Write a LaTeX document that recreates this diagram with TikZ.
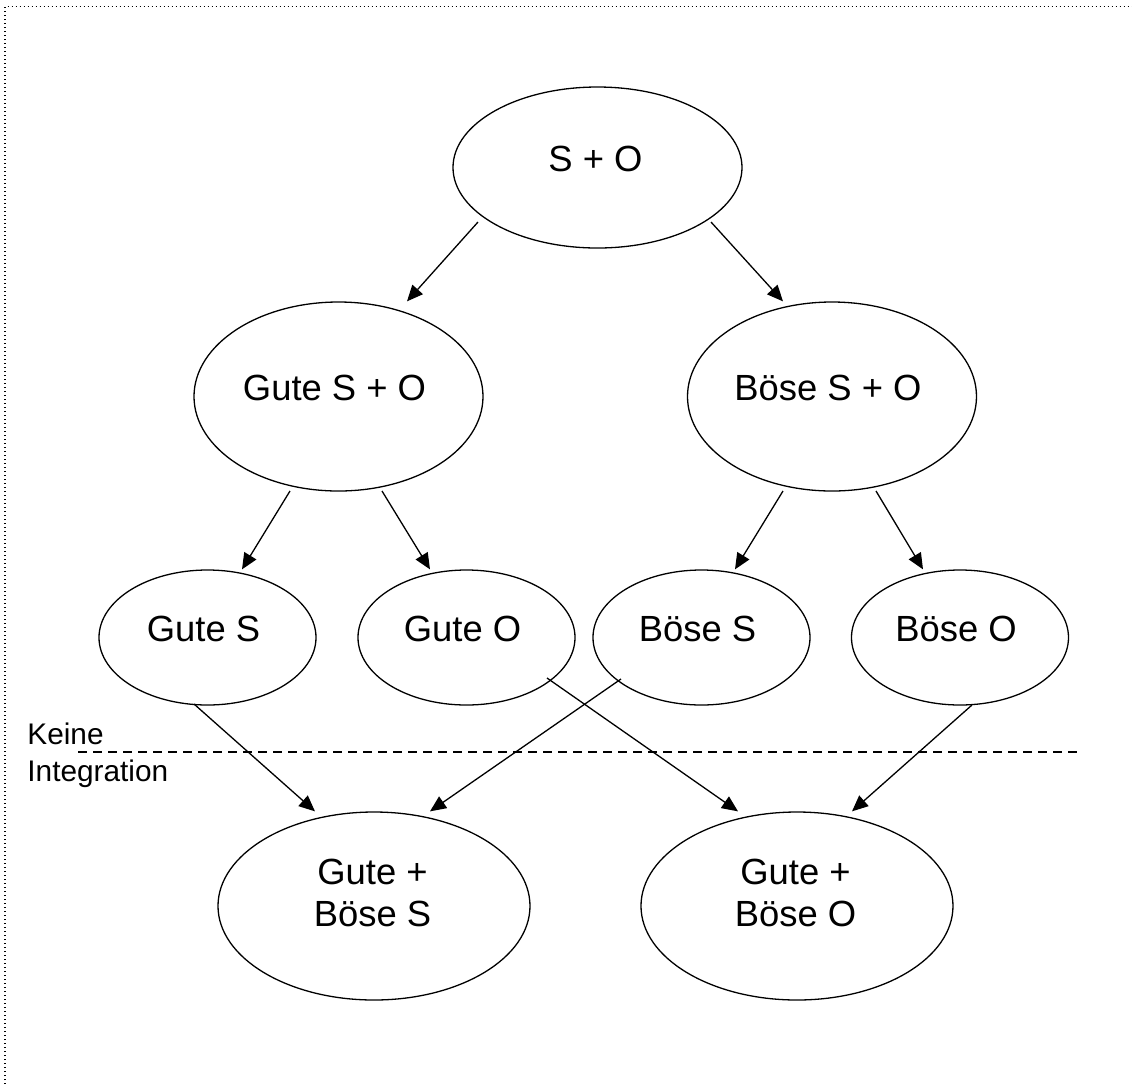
\documentclass[tikz,border=0pt]{standalone}
\usepackage{fontspec}
\setmainfont{Liberation Sans}
\usetikzlibrary{shapes.geometric, arrows.meta, calc}

\begin{document}
\begin{tikzpicture}[x=0.5pt, y=-0.5pt, >={Triangle[length=8pt,width=7pt]},
    blob/.style={draw, ellipse, line width=0.65pt, inner sep=0pt},
    big/.style={blob, minimum width=144.5pt, minimum height=94.5pt},
    small/.style={blob, minimum width=108.5pt, minimum height=67.5pt},
    wide/.style={blob, minimum width=156pt, minimum height=94pt},
    txt/.style={font=\fontsize{18.2pt}{21pt}\selectfont, align=center, xshift=-2pt, yshift=4.25pt},
    arr/.style={->, line width=0.65pt}]
    \useasboundingbox (0,0) rectangle (1132,1084);
    \draw[line width=0.6pt, black, dash pattern=on 0.5pt off 1.5pt] (5,1084) -- (5,6.5) -- (1132,6.5);

    \node[blob, minimum width=144.5pt, minimum height=80.5pt, label={[txt, xshift=1pt]center:S + O}] (so) at (597.5,167.5) {};

    \node[big, label={[txt]center:Gute S + O}] (gso) at (338.5,396.5) {};
    \node[big, label={[txt]center:Böse S + O}] (bso) at (832,396.5) {};

    \node[small, label={[txt]center:Gute S}] (gs) at (207.5,637.5) {};
    \node[small, label={[txt]center:Gute O}] (go) at (466.5,637.5) {};
    \node[small, label={[txt]center:Böse S}] (bs) at (701.5,637.5) {};
    \node[small, label={[txt]center:Böse O}] (bo) at (960,637.5) {};

    \node[wide, label={[txt, xshift=1.25pt, yshift=2.5pt]center:Gute +\\Böse S}] (gbs) at (374,906) {};
    \node[wide, label={[txt, xshift=1.25pt, yshift=2.5pt]center:Gute +\\Böse O}] (gbo) at (797,906) {};

    % border of integration
    \draw[line width=0.65pt, dash pattern=on 4.5pt off 3pt] (78,752) -- (1080,752);
    \node[font=\fontsize{14.9pt}{18.8pt}\selectfont, align=left, anchor=north west, inner sep=0pt] (keine) at (27,722) {Keine\\Integration};

    \draw[arr] ($(so)+(-119.5,54.5)$) -- ($(gso.north)+(68.5,0)$);
    \draw[arr] ($(so)+(113.5,54.5)$) -- ($(bso.north)+(-49,0)$);

    \draw[arr] ($(gso)+(-48.5,94.5)$) -- ($(gs.north)+(34.5,0)$);
    \draw[arr] ($(gso)+(43.5,94.5)$) -- ($(go.north)+(-36.5,0)$);
    \draw[arr] ($(bso)+(-49,94.5)$) -- ($(bs.north)+(33.5,0)$);
    \draw[arr] ($(bso)+(44,94.5)$) -- ($(bo.north)+(-37,0)$);

    \draw[arr] ($(gs)+(-13.5,66.5)$) -- ($(gbs.north)+(-59,0)$);
    \draw[arr] ($(bs)+(-80.5,41.5)$) -- ($(gbs.north)+(56,0)$);
    \draw[arr] ($(go)+(80.5,40.5)$) -- ($(gbo.north)+(-59,0)$);
    \draw[arr] ($(bo)+(12,67.5)$) -- ($(gbo.north)+(55,0)$);
\end{tikzpicture}
\end{document}
